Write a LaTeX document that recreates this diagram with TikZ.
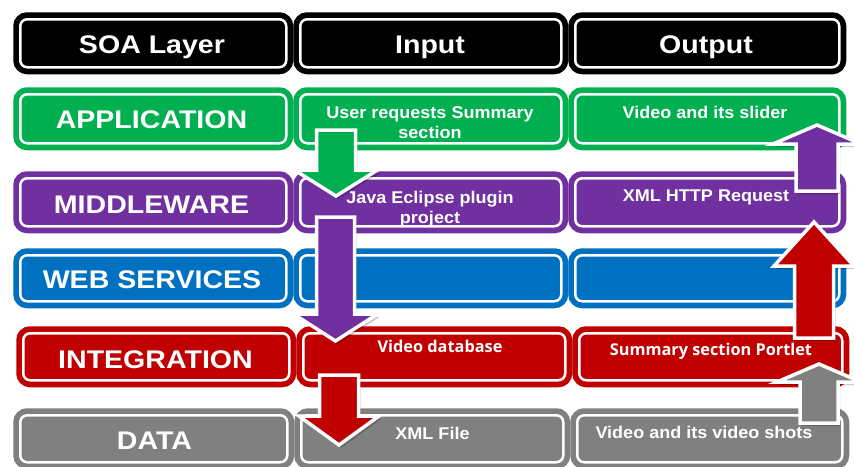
\documentclass[tikz,border=0pt]{standalone}
\usepackage{fontspec}
\setmainfont{Liberation Sans}
\newfontfamily\bigf[FakeStretch=1.12]{Liberation Sans}
\newfontfamily\smallf[FakeStretch=1.06]{Liberation Sans}
\newfontfamily\humf{Open Sans}
\definecolor{hdr}{HTML}{000000}
\definecolor{appg}{HTML}{00B050}
\definecolor{midp}{HTML}{7030A0}
\definecolor{webb}{HTML}{0070C0}
\definecolor{intr}{HTML}{C00000}
\definecolor{datg}{HTML}{808080}

% block arrow: colour, centre x, tail y, head-base y, tip y, shaft half width, head half width
\newcommand\soaarrow[7]{%
  \path[fill=black, opacity=.22, shift={(2,3)}]
    (#2-#6,#3) -- (#2+#6,#3) -- (#2+#6,#4) -- (#2+#7,#4) -- (#2,#5)
    -- (#2-#7,#4) -- (#2-#6,#4) -- cycle;
  \path[fill=#1, draw=white, line width=3.5pt, line join=miter]
    (#2-#6,#3) -- (#2+#6,#3) -- (#2+#6,#4) -- (#2+#7,#4) -- (#2,#5)
    -- (#2-#7,#4) -- (#2-#6,#4) -- cycle;}

\begin{document}
\begin{tikzpicture}[x=1pt, y=-1pt,
  cell/.style={rounded corners=7pt, fill=#1, draw=white, line width=2.5pt,
    preaction={draw=#1, line width=14pt}, inner sep=0pt, anchor=north west},
  bigt/.style={text=white, inner sep=0pt, anchor=base,
    font=\bigf\bfseries\fontsize{25.5}{30}\selectfont},
  cellt/.style={text=white, inner sep=0pt, anchor=north, align=center,
    font=\smallf\bfseries\fontsize{17}{20}\selectfont},
  humt/.style={text=white, inner sep=0pt, anchor=north, align=center,
    font=\humf\bfseries\fontsize{16.3}{19}\selectfont}]
\useasboundingbox (0,0) rectangle (854,466);
\clip (0,0) rectangle (854,466);

% ---- header row
\node[cell=hdr, minimum width=266, minimum height=48] (h1) at (19,18) {};
\node[cell=hdr, minimum width=261, minimum height=48] (h2) at (299,18) {};
\node[cell=hdr, minimum width=264, minimum height=48] (h3) at (574,18) {};
% ---- application
\node[cell=appg, minimum width=266, minimum height=49] (a1) at (19,93) {};
\node[cell=appg, minimum width=261, minimum height=49] (a2) at (299,93) {};
\node[cell=appg, minimum width=264, minimum height=49] (a3) at (574,93) {};
% ---- middleware
\node[cell=midp, minimum width=266, minimum height=48] (m1) at (19,177) {};
\node[cell=midp, minimum width=261, minimum height=48] (m2) at (299,177) {};
\node[cell=midp, minimum width=264, minimum height=48] (m3) at (574,177) {};
% ---- web services
\node[cell=webb, minimum width=266, minimum height=46] (w1) at (19,254) {};
\node[cell=webb, minimum width=261, minimum height=46] (w2) at (299,254) {};
\node[cell=webb, minimum width=264, minimum height=46] (w3) at (574,254) {};
% ---- integration
\node[cell=intr, minimum width=266, minimum height=47] (i1) at (22,332) {};
\node[cell=intr, minimum width=262, minimum height=47] (i2) at (302,332) {};
\node[cell=intr, minimum width=263, minimum height=47] (i3) at (578,332) {};
% ---- data
\node[cell=datg, minimum width=267, minimum height=47] (d1) at (19,414) {};
\node[cell=datg, minimum width=262, minimum height=47] (d2) at (300,414) {};
\node[cell=datg, minimum width=265, minimum height=47] (d3) at (576,414) {};

% ---- headings and layer names
\node[bigt] (th1) at (152,53) {SOA Layer};
\node[bigt] (th2) at (430,53) {Input};
\node[bigt] (th3) at (706,53) {Output};
\node[bigt] (ta) at (151.5,128) {APPLICATION};
\node[bigt] (tm) at (151.5,213) {MIDDLEWARE};
\node[bigt] (tw) at (152,288) {WEB SERVICES};
\node[bigt] (ti) at (155.5,368) {INTEGRATION};
\node[bigt] (td) at (154.5,449) {DATA};

% ---- cell contents
\node[cellt] (ta2) at (430,106) {User requests Summary\\section};
\node[cellt] (ta3) at (705,106) {Video and its slider};
\node[cellt] (tm2) at (430,191) {Java Eclipse plugin\\project};
\node[cellt] (tm3) at (706,190) {XML HTTP Request};
\node[humt] (ti2) at (440,340) {Video database};
\node[humt] (ti3) at (711,343) {Summary section Portlet};
\node[cellt] (td2) at (432.5,427) {XML File};
\node[cellt] (td3) at (704,426) {Video and its video shots};

% ---- flow arrows
\soaarrow{appg}{336}{130}{170}{196}{19.5}{41.5}
\soaarrow{midp}{335.5}{217}{314}{341}{19}{42}
\soaarrow{intr}{339}{375}{416}{445}{19.5}{40}
\soaarrow{datg}{819}{423}{382}{364}{19}{42}
\soaarrow{intr}{814}{338}{266}{222}{19.5}{40}
\soaarrow{midp}{817}{191}{144}{125}{21}{44}
\end{tikzpicture}
\end{document}
